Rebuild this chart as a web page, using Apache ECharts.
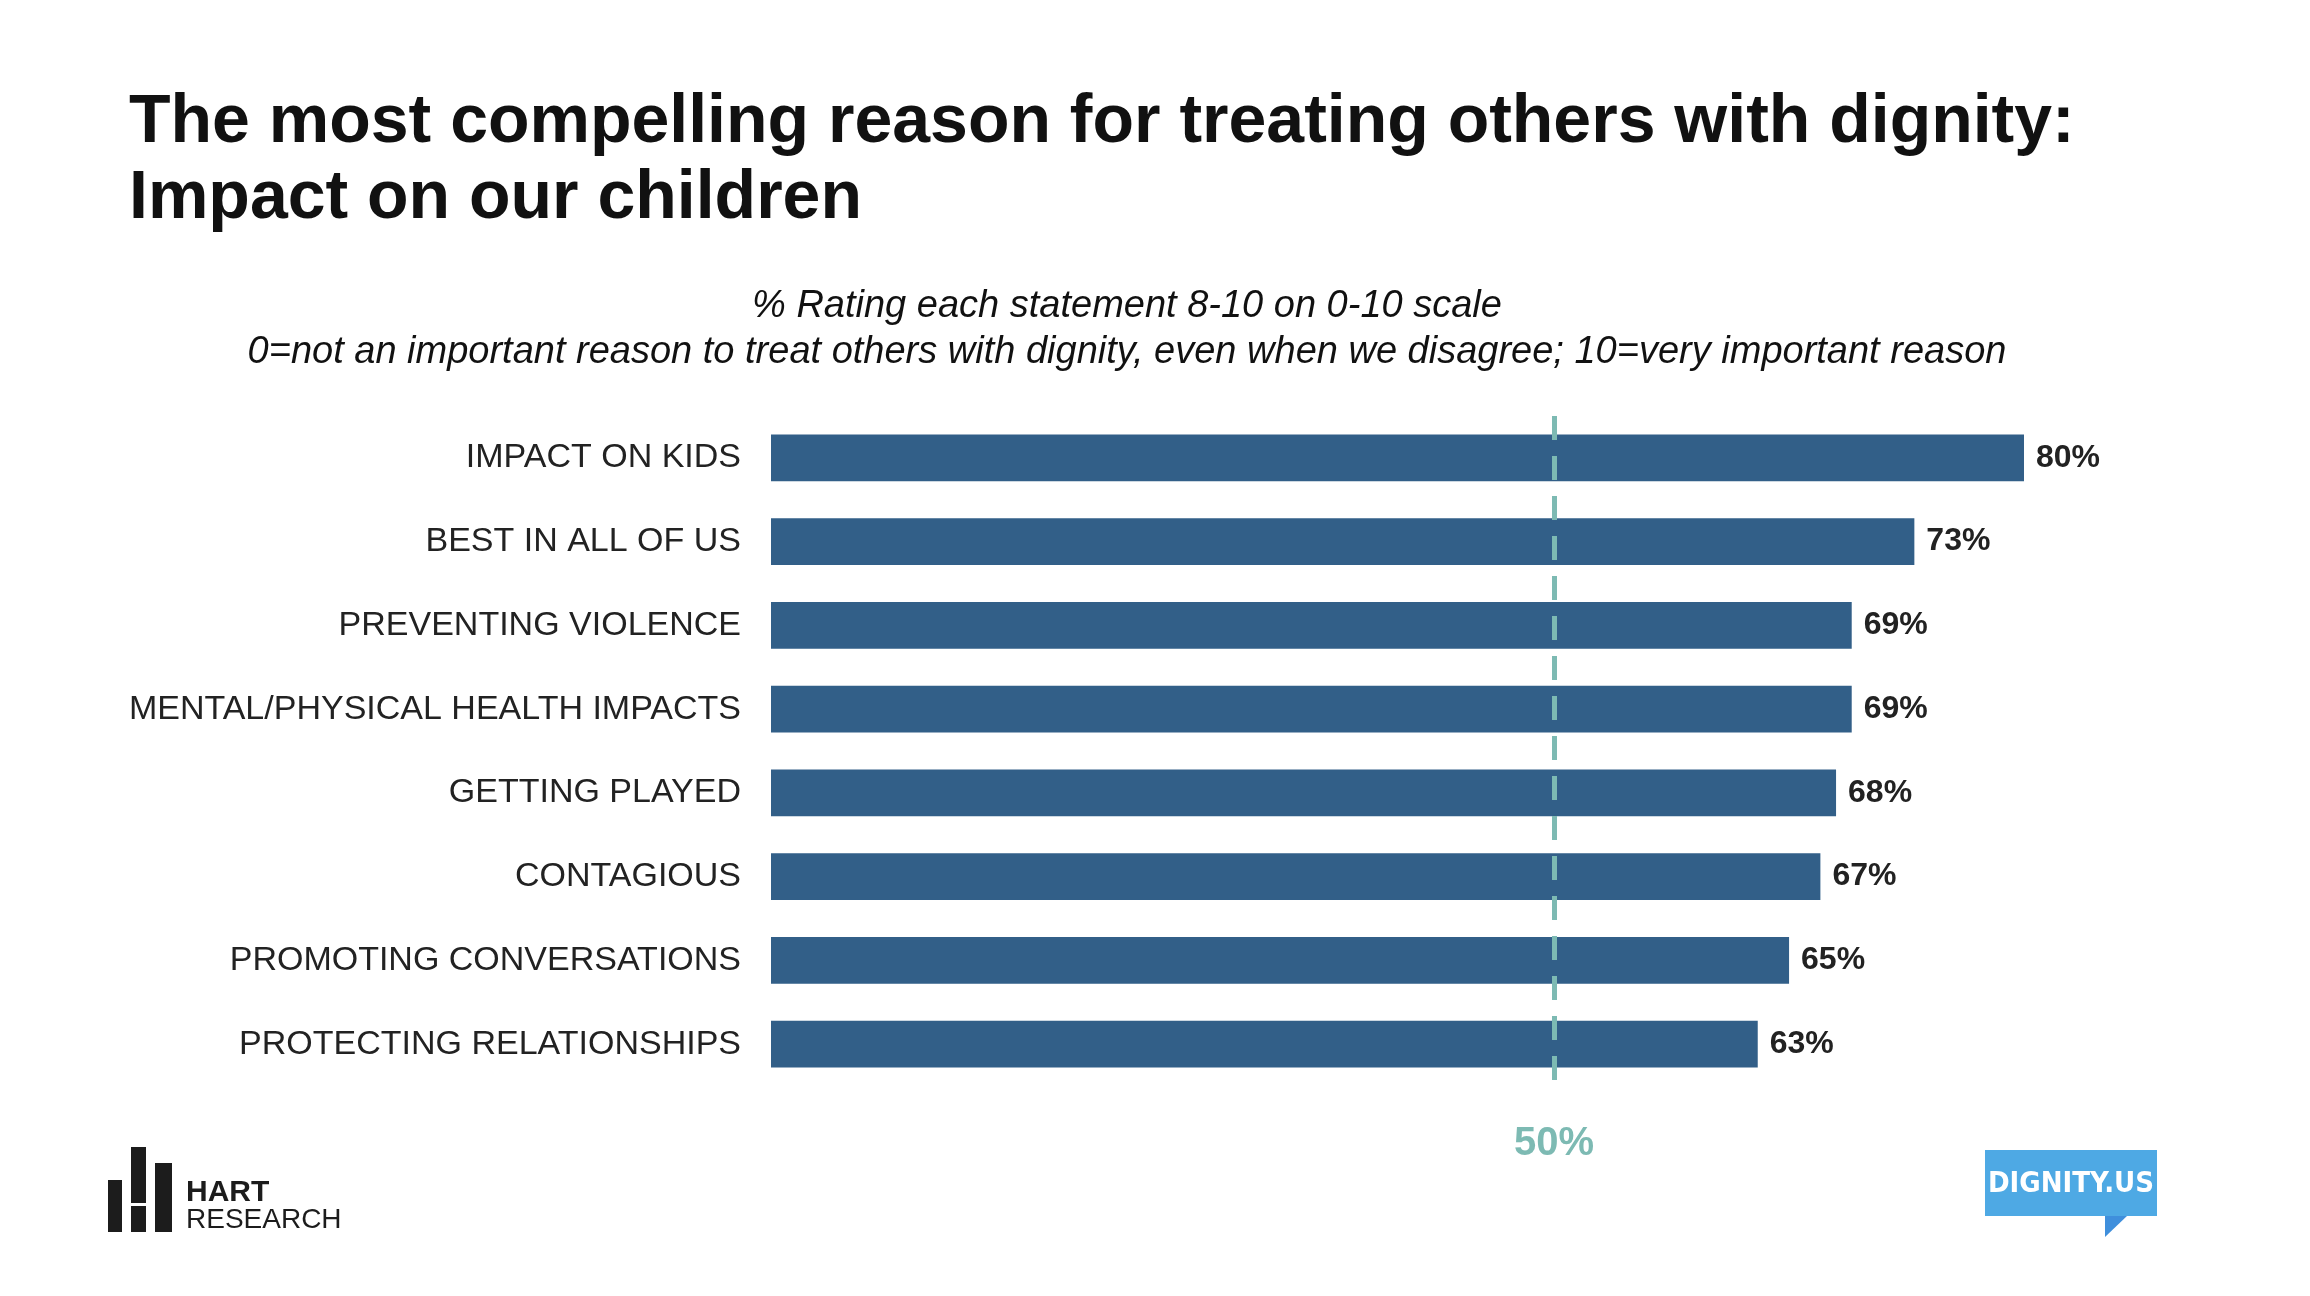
<!DOCTYPE html>
<html>
<head>
<meta charset="utf-8">
<script src="https://cdn.jsdelivr.net/npm/echarts@6/dist/echarts.min.js"></script>
<style>html,body{margin:0;padding:0;background:#fff}#chart{width:2310px;height:1296px}</style>
</head>
<body>
<div id="chart"></div>
<script>
var categories = ['IMPACT ON KIDS', 'BEST IN ALL OF US', 'PREVENTING VIOLENCE', 'MENTAL/PHYSICAL HEALTH IMPACTS',
    'GETTING PLAYED', 'CONTAGIOUS', 'PROMOTING CONVERSATIONS', 'PROTECTING RELATIONSHIPS'];
var values = [80, 73, 69, 69, 68, 67, 65, 63];
var reference = 50;

var chart = echarts.init(document.getElementById('chart'));
var font = 'Liberation Sans, Arial, sans-serif';

chart.setOption({
    animation: false,
    title: [{
        text: 'The most compelling reason for treating others with dignity:\nImpact on our children',
        left: 124, top: 80,
        textStyle: { fontFamily: font, fontSize: 68, fontWeight: 'bold', color: '#111', lineHeight: 76 }
    }, {
        text: '% Rating each statement 8-10 on 0-10 scale\n0=not an important reason to treat others with dignity, even when we disagree; 10=very important reason',
        left: 1122, top: 278, textAlign: 'center',
        textStyle: { fontFamily: font, fontSize: 38, fontStyle: 'italic', fontWeight: 'normal', color: '#111', lineHeight: 46 }
    }],
    grid: { left: 771, right: 2310 - 2024, top: 416, bottom: 1296 - 1086 },
    xAxis: { type: 'value', min: 0, max: 80, show: false },
    yAxis: {
        type: 'category', data: categories, inverse: true,
        axisLine: { show: false }, axisTick: { show: false },
        axisLabel: { fontFamily: font, fontSize: 34, color: '#222', margin: 30 }
    },
    series: [{
        type: 'bar', data: values, barCategoryGap: '44%',
        itemStyle: { color: '#325f88' },
        label: {
            show: true, position: 'right', distance: 12, formatter: '{c}%',
            fontFamily: font, fontSize: 32, fontWeight: 'bold', color: '#222'
        },
        markLine: {
            symbol: 'none', silent: true, z: 10,
            lineStyle: { color: '#7dbab3', width: 5, type: [24, 16] },
            label: {
                position: 'end', formatter: '50%', distance: 38,
                fontFamily: font, fontSize: 40, fontWeight: 'bold', color: '#7dbab3'
            },
            data: [{ xAxis: reference }]
        }
    }],
    graphic: [
        { type: 'rect', shape: { x: 108, y: 1180, width: 14, height: 52 }, style: { fill: '#1c1c1c' } },
        { type: 'rect', shape: { x: 131, y: 1147, width: 15, height: 56 }, style: { fill: '#1c1c1c' } },
        { type: 'rect', shape: { x: 131, y: 1206, width: 15, height: 26 }, style: { fill: '#1c1c1c' } },
        { type: 'rect', shape: { x: 155, y: 1163, width: 17, height: 69 }, style: { fill: '#1c1c1c' } },
        { type: 'text', style: { x: 186, y: 1178, text: 'HART', font: 'bold 30px ' + font, fill: '#1c1c1c' } },
        { type: 'text', style: { x: 186, y: 1206, text: 'RESEARCH', font: '28px ' + font, fill: '#1c1c1c' } },
        { type: 'rect', shape: { x: 1985, y: 1150, width: 172, height: 66 }, style: { fill: '#4ea9e4' } },
        { type: 'polygon', shape: { points: [[2105, 1216], [2127, 1216], [2105, 1237]] }, style: { fill: '#3f8fdc' } },
        { type: 'text', style: { x: 2071, y: 1184, text: 'DIGNITY.US', font: 'bold 29px "DejaVu Sans Condensed", ' + font, fill: '#fff', align: 'center', verticalAlign: 'middle' } }
    ]
});
</script>
</body>
</html>
